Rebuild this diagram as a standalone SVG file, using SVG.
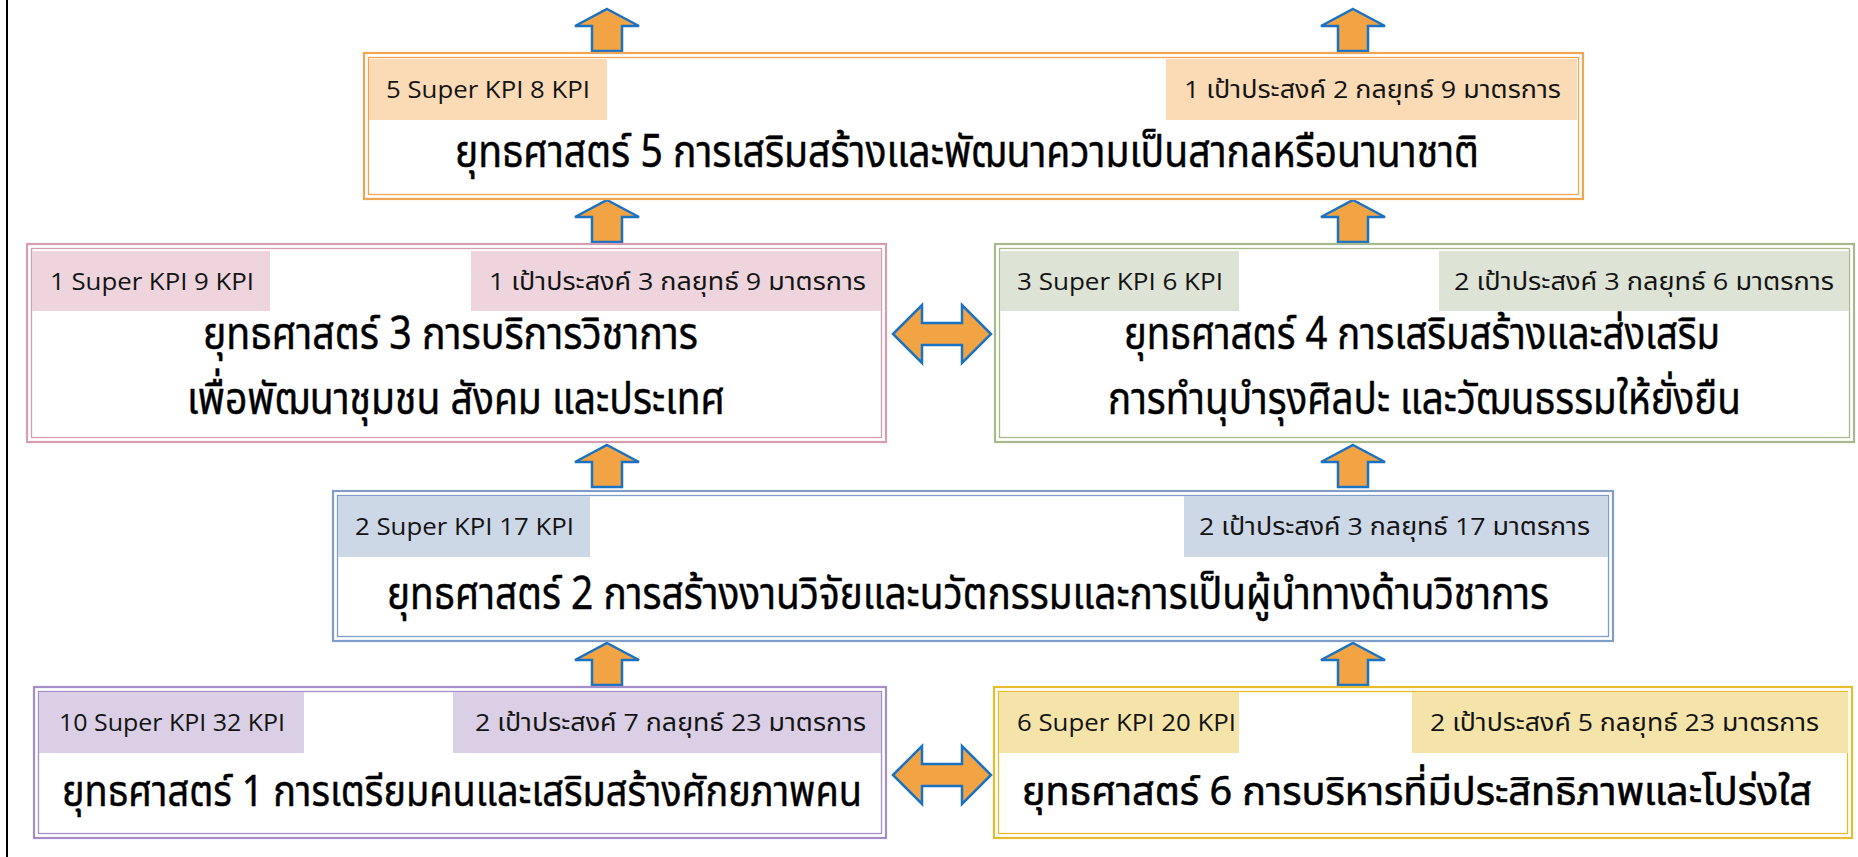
<svg xmlns="http://www.w3.org/2000/svg" width="1858" height="857" viewBox="0 0 1858 857">
<style>
.o{fill:none;stroke-width:2.2}
.i{fill:none;stroke-width:1.3}
.tg{font-family:'Open Sans','Noto Sans Thai','Noto Sans',sans-serif;font-size:24px;fill:#141414}
.tt{font-family:'Noto Sans Thai','Noto Sans Thai UI','Noto Sans','DejaVu Sans',sans-serif;font-size:45px;fill:#000;stroke:#000;stroke-width:0.45}
.ts{font-size:43px}
.tx{font-size:40px;stroke-width:0.6}
.ar{fill:#F2A444;stroke:#1B72C2;stroke-width:2.5;stroke-linejoin:miter}
.c5{stroke:#F2A550}.f5{fill:#FADBB6}
.c3{stroke:#D79DB1}.f3{fill:#EDD4DD}
.c4{stroke:#A8B98D}.f4{fill:#DDE3D5}
.c2{stroke:#7F9DC6}.f2{fill:#CDD8E7}
.c1{stroke:#A58FC9}.f1{fill:#DACFE5}
.c6{stroke:#E7BD2E}.f6{fill:#F5E4A9}
</style>
<defs>
<path id="up" d="M0,0 L32,17 L15,17 L15,42 L-15,42 L-15,17 L-32,17 Z"/>
<path id="lr" d="M-49,0 L-20,-29 L-20,-11 L20,-11 L20,-29 L49,0 L20,29 L20,11 L-20,11 L-20,29 Z"/>
</defs>
<rect width="1858" height="857" fill="#fff"/>
<line x1="7" y1="0" x2="7" y2="857" stroke="#000" stroke-width="2"/>

<g id="connectors">
<use href="#up" class="ar" transform="translate(607,9)"/>
<use href="#up" class="ar" transform="translate(1353,9)"/>
<use href="#up" class="ar" transform="translate(607,200)"/>
<use href="#up" class="ar" transform="translate(1353,200)"/>
<use href="#up" class="ar" transform="translate(607,445)"/>
<use href="#up" class="ar" transform="translate(1353,445)"/>
<use href="#up" class="ar" transform="translate(607,643)"/>
<use href="#up" class="ar" transform="translate(1353,643)"/>
<use href="#lr" class="ar" transform="translate(942,334)"/>
<use href="#lr" class="ar" transform="translate(942,775)"/>
</g>

<g id="s5">
<rect class="o c5" x="364" y="53" width="1219" height="146"/>
<rect class="i c5" x="368.5" y="57.5" width="1210" height="137"/>
<rect class="f5" x="369" y="59" width="238" height="61"/>
<rect class="f5" x="1166" y="59" width="411" height="61"/>
<text class="tg" x="386" y="98" textLength="204" lengthAdjust="spacingAndGlyphs">5 Super KPI 8 KPI</text>
<text class="tg" x="1184" y="98" textLength="377" lengthAdjust="spacingAndGlyphs">1 เป้าประสงค์ 2 กลยุทธ์ 9 มาตรการ</text>
<text class="tt" x="455" y="167" textLength="1024" lengthAdjust="spacingAndGlyphs">ยุทธศาสตร์ 5 การเสริมสร้างและพัฒนาความเป็นสากลหรือนานาชาติ</text>
</g>

<g id="s3">
<rect class="o c3" x="27" y="244" width="859" height="198"/>
<rect class="i c3" x="31.5" y="248.5" width="850" height="189"/>
<rect class="f3" x="32" y="251" width="238" height="60"/>
<rect class="f3" x="471" y="251" width="410" height="60"/>
<text class="tg" x="50" y="290" textLength="204" lengthAdjust="spacingAndGlyphs">1 Super KPI 9 KPI</text>
<text class="tg" x="489" y="290" textLength="377" lengthAdjust="spacingAndGlyphs">1 เป้าประสงค์ 3 กลยุทธ์ 9 มาตรการ</text>
<text class="tt" x="203" y="349" textLength="495" lengthAdjust="spacingAndGlyphs">ยุทธศาสตร์ 3 การบริการวิชาการ</text>
<text class="tt" x="187" y="414" textLength="538" lengthAdjust="spacingAndGlyphs">เพื่อพัฒนาชุมชน สังคม และประเทศ</text>
</g>

<g id="s4">
<rect class="o c4" x="995" y="244" width="859" height="198"/>
<rect class="i c4" x="999.5" y="248.5" width="850" height="189"/>
<rect class="f4" x="1000" y="251" width="239" height="60"/>
<rect class="f4" x="1439" y="251" width="410" height="60"/>
<text class="tg" x="1017" y="290" textLength="206" lengthAdjust="spacingAndGlyphs">3 Super KPI 6 KPI</text>
<text class="tg" x="1454" y="290" textLength="380" lengthAdjust="spacingAndGlyphs">2 เป้าประสงค์ 3 กลยุทธ์ 6 มาตรการ</text>
<text class="tt" x="1124" y="349" textLength="596" lengthAdjust="spacingAndGlyphs">ยุทธศาสตร์ 4 การเสริมสร้างและส่งเสริม</text>
<text class="tt" x="1108" y="414" textLength="633" lengthAdjust="spacingAndGlyphs">การทำนุบำรุงศิลปะ และวัฒนธรรมให้ยั่งยืน</text>
</g>

<g id="s2">
<rect class="o c2" x="333" y="491" width="1280" height="150"/>
<rect class="i c2" x="337.5" y="495.5" width="1271" height="141"/>
<rect class="f2" x="338" y="496" width="252" height="61"/>
<rect class="f2" x="1184" y="496" width="424" height="61"/>
<text class="tg" x="355" y="535" textLength="219" lengthAdjust="spacingAndGlyphs">2 Super KPI 17 KPI</text>
<text class="tg" x="1199" y="535" textLength="391" lengthAdjust="spacingAndGlyphs">2 เป้าประสงค์ 3 กลยุทธ์ 17 มาตรการ</text>
<text class="tt" x="387" y="609" textLength="1162" lengthAdjust="spacingAndGlyphs">ยุทธศาสตร์ 2 การสร้างงานวิจัยและนวัตกรรมและการเป็นผู้นำทางด้านวิชาการ</text>
</g>

<g id="s1">
<rect class="o c1" x="34" y="687" width="852" height="151"/>
<rect class="i c1" x="38.5" y="691.5" width="843" height="142"/>
<rect class="f1" x="39" y="692" width="265" height="61"/>
<rect class="f1" x="453" y="692" width="428" height="61"/>
<text class="tg" x="59" y="731" textLength="226" lengthAdjust="spacingAndGlyphs">10 Super KPI 32 KPI</text>
<text class="tg" x="475" y="731" textLength="391" lengthAdjust="spacingAndGlyphs">2 เป้าประสงค์ 7 กลยุทธ์ 23 มาตรการ</text>
<text class="tt ts" x="62" y="806" textLength="800" lengthAdjust="spacingAndGlyphs">ยุทธศาสตร์ 1 การเตรียมคนและเสริมสร้างศักยภาพคน</text>
</g>

<g id="s6">
<rect class="o c6" x="994" y="687" width="858" height="151"/>
<rect class="i c6" x="998.5" y="691.5" width="849" height="142"/>
<rect class="f6" x="999" y="692" width="240" height="61"/>
<rect class="f6" x="1412" y="692" width="436" height="61"/>
<text class="tg" x="1017" y="731" textLength="219" lengthAdjust="spacingAndGlyphs">6 Super KPI 20 KPI</text>
<text class="tg" x="1430" y="731" textLength="389" lengthAdjust="spacingAndGlyphs">2 เป้าประสงค์ 5 กลยุทธ์ 23 มาตรการ</text>
<text class="tt tx" x="1022" y="805" textLength="790" lengthAdjust="spacingAndGlyphs">ยุทธศาสตร์ 6 การบริหารที่มีประสิทธิภาพและโปร่งใส</text>
</g>
</svg>
